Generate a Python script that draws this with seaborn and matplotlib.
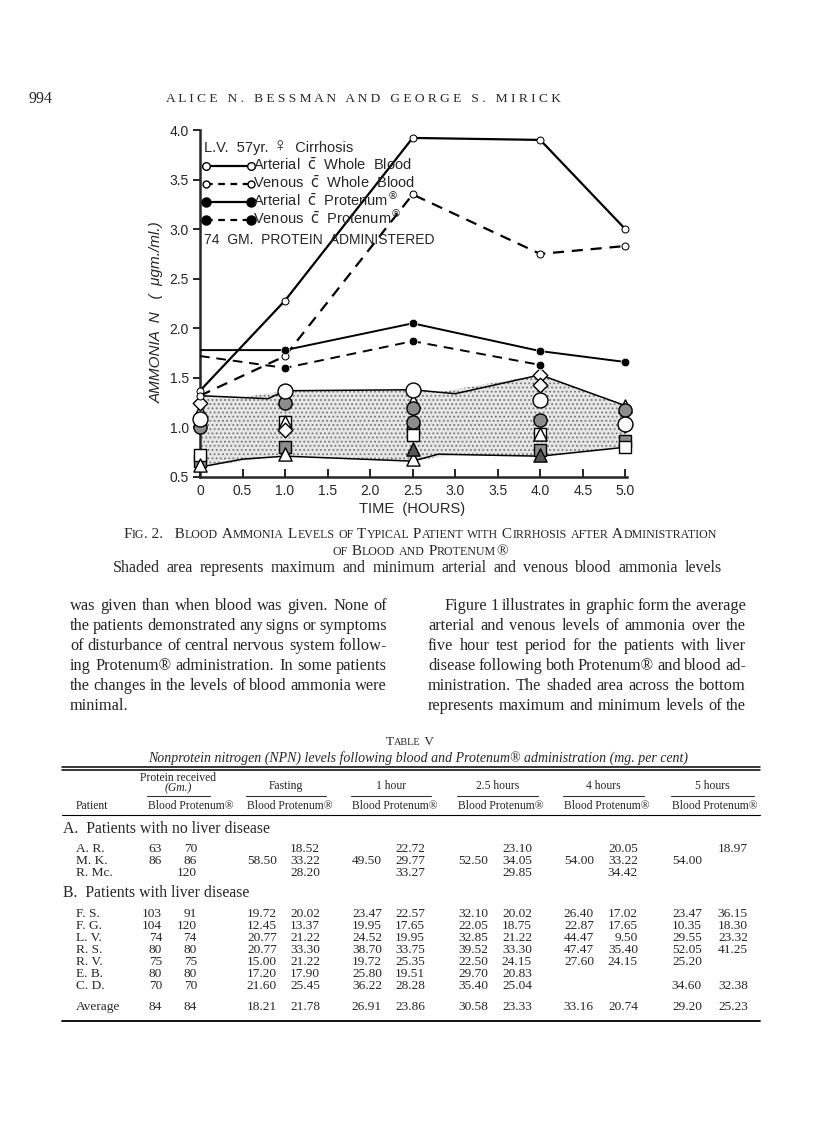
import numpy as np
import pandas as pd
import matplotlib
matplotlib.use("Agg")
import matplotlib.pyplot as plt
import seaborn as sns
from matplotlib.lines import Line2D

# ---- chart data ----
hours = [0, 1.0, 2.5, 4.0, 5.0]
art_blood = [1.37, 2.28, 3.92, 3.90, 3.00]
ven_blood = [1.32, 1.72, 3.35, 2.75, 2.83]
art_prot_t = [0, 1.0, 2.5, 4.0, 5.0]
art_prot = [1.78, 1.78, 2.05, 1.77, 1.66]
ven_prot_t = [0, 1.0, 2.5, 4.0]
ven_prot = [1.72, 1.60, 1.87, 1.63]

# shaded band (max / min of all arterial and venous levels)
band_hi_t = [0, 0.8, 1.0, 2.5, 3.0, 4.0, 5.0]
band_hi = [1.32, 1.29, 1.37, 1.38, 1.34, 1.53, 1.22]
band_lo_t = [0, 0.5, 1.0, 2.5, 2.8, 4.0, 5.0]
band_lo = [0.60, 0.68, 0.71, 0.66, 0.73, 0.71, 0.80]

# individual patient symbols
circ_t = [0, 1.0, 2.5, 4.0, 5.0]
circ_v = [1.08, 1.37, 1.38, 1.28, 1.03]
stip_circ_t = [0, 1.0, 2.5, 2.5, 4.0, 5.0]
stip_circ_v = [1.00, 1.25, 1.20, 1.05, 1.07, 1.18]
tri_t = [0, 0, 1.0, 1.0, 2.5, 2.5, 4.0, 5.0]
tri_v = [1.17, 0.62, 0.73, 1.05, 0.68, 1.27, 0.93, 1.22]
dark_tri_t = [1.0, 2.5, 4.0]
dark_tri_v = [1.30, 0.78, 0.72]
sq_t = [0, 1.0, 2.5, 4.0, 5.0]
sq_v = [0.72, 1.05, 0.92, 0.93, 0.80]
stip_sq_t = [0, 1.0, 2.5, 4.0, 5.0]
stip_sq_v = [0.66, 0.80, 0.97, 0.77, 0.86]
dia_t = [0, 1.0, 4.0, 4.0, 5.0]
dia_v = [1.25, 0.97, 1.53, 1.43, 1.02]

xticks = [0, 0.5, 1.0, 1.5, 2.0, 2.5, 3.0, 3.5, 4.0, 4.5, 5.0]
xtick_labels = ["0", "0.5", "1.0", "1.5", "2.0", "2.5", "3.0", "3.5", "4.0", "4.5", "5.0"]
yticks = [0.5, 1.0, 1.5, 2.0, 2.5, 3.0, 3.5, 4.0]
ytick_labels = ["0.5", "1.0", "1.5", "2.0", "2.5", "3.0", "3.5", "4.0"]

legend_title = ["L.V.  57yr. ", "\u2640", "  Cirrhosis"]
legend_labels = [
    r"Arterial  $\bar{\mathrm{c}}$  Whole  Blood",
    r"Venous  $\bar{\mathrm{c}}$  Whole  Blood",
    r"Arterial  $\bar{\mathrm{c}}$  Protenum$^{\circledR}$",
    r"Venous  $\bar{\mathrm{c}}$  Protenum$^{\circledR}$",
]

# ---- table data ----
names_a = ["A. R.", "M. K.", "R. Mc."]
names_b = ["F. S.", "F. G.", "L. V.", "R. S.", "R. V.", "E. B.", "C. D."]
cols_a = [
    ["63", "86", ""], ["70", "86", "120"],
    ["", "58.50", ""], ["18.52", "33.22", "28.20"],
    ["", "49.50", ""], ["22.72", "29.77", "33.27"],
    ["", "52.50", ""], ["23.10", "34.05", "29.85"],
    ["", "54.00", ""], ["20.05", "33.22", "34.42"],
    ["", "54.00", ""], ["18.97", "", ""],
]
cols_b = [
    ["103", "104", "74", "80", "75", "80", "70"],
    ["91", "120", "74", "80", "75", "80", "70"],
    ["19.72", "12.45", "20.77", "20.77", "15.00", "17.20", "21.60"],
    ["20.02", "13.37", "21.22", "33.30", "21.22", "17.90", "25.45"],
    ["23.47", "19.95", "24.52", "38.70", "19.72", "25.80", "36.22"],
    ["22.57", "17.65", "19.95", "33.75", "25.35", "19.51", "28.28"],
    ["32.10", "22.05", "32.85", "39.52", "22.50", "29.70", "35.40"],
    ["20.02", "18.75", "21.22", "33.30", "24.15", "20.83", "25.04"],
    ["26.40", "22.87", "44.47", "47.47", "27.60", "", ""],
    ["17.02", "17.65", "9.50", "35.40", "24.15", "", ""],
    ["23.47", "10.35", "29.55", "52.05", "25.20", "", "34.60"],
    ["36.15", "18.30", "23.32", "41.25", "", "", "32.38"],
]
averages = ["84", "84", "18.21", "21.78", "26.91", "23.86", "30.58", "23.33",
            "33.16", "20.74", "29.20", "25.23"]
groups = ["Protein received", "Fasting", "1 hour", "2.5 hours", "4 hours", "5 hours"]

left_col = [
    "was given than when blood was given.  None of",
    "the patients demonstrated any signs or symptoms",
    "of disturbance of central nervous system follow-",
    "ing Protenum\u00ae administration.  In some patients",
    "the changes in the levels of blood ammonia were",
    "minimal.",
]
right_col = [
    "Figure 1 illustrates in graphic form the average",
    "arterial and venous levels of ammonia over the",
    "five hour test period for the patients with liver",
    "disease following both Protenum\u00ae and blood ad-",
    "ministration.  The shaded area across the bottom",
    "represents maximum and minimum levels of the",
]

sns.set_style("ticks")
plt.rcParams['font.family'] = ['Liberation Sans', 'DejaVu Sans']
plt.rcParams['hatch.linewidth'] = 0.8
SERIF = ['Liberation Serif', 'DejaVu Serif']

W, H = 816, 1133
fig = plt.figure(figsize=(W / 100, H / 100), dpi=100)
renderer = fig.canvas.get_renderer()


def fx(x):
    return x / W


def fy(y):
    return 1 - y / H


def width_of(s, **kw):
    t = fig.text(0, 0, s, **kw)
    w = t.get_window_extent(renderer).width
    t.remove()
    return w


def justify(x0, x1, y, text, size, last=False, indent=0):
    words = text.split()
    space = width_of("a a", fontsize=size, family=SERIF) - width_of("aa", fontsize=size, family=SERIF)
    ws = [width_of(w, fontsize=size, family=SERIF) for w in words]
    if last or len(words) == 1:
        gap = space
    else:
        gap = (x1 - x0 - indent - sum(ws)) / (len(words) - 1)
        if gap < 0.6 * space:
            # line too long for the column: shrink it slightly
            size = size * (x1 - x0 - indent - 0.6 * space * (len(words) - 1)) / sum(ws)
            ws = [width_of(w, fontsize=size, family=SERIF) for w in words]
            gap = (x1 - x0 - indent - sum(ws)) / (len(words) - 1)
    x = x0 + indent
    for w, wd in zip(words, ws):
        fig.text(fx(x), fy(y), w, fontsize=size, family=SERIF, va='baseline')
        x += wd + gap


def smallcaps(x, y, text, size, ha='left', ratio=0.78, family=SERIF):
    runs = []
    for ch in text:
        small = ch.islower()
        if runs and runs[-1][1] == small:
            runs[-1][0] += ch
        else:
            runs.append([ch, small])
    pieces = []
    for s, small in runs:
        sz = size * ratio if small else size
        s = s.upper().replace(" ", "\u00a0")
        pieces.append((s, sz, width_of(s, fontsize=sz, family=family)))
    total = sum(p[2] for p in pieces)
    if ha == 'center':
        x = x - total / 2
    for s, sz, wd in pieces:
        fig.text(fx(x), fy(y), s, fontsize=sz, family=family, va='baseline')
        x += wd


# ---- chart ----
ax = fig.add_axes([fx(200), fy(477), 427 / W, (477 - 130) / H])

ax.fill_between(band_hi_t, band_hi, np.interp(band_hi_t, band_lo_t, band_lo),
                facecolor='#e6e6e6', edgecolor='#777777', hatch='....', linewidth=0)
lo_on_hi = np.interp(band_lo_t, band_hi_t, band_hi)
ax.fill_between(band_lo_t, lo_on_hi, band_lo,
                facecolor='#e6e6e6', edgecolor='#777777', hatch='....', linewidth=0)
sns.lineplot(x=band_hi_t, y=band_hi, ax=ax, color='k', linewidth=1.1, sort=False)
sns.lineplot(x=band_lo_t, y=band_lo, ax=ax, color='k', linewidth=1.1, sort=False)

sym = dict(ax=ax, s=75, edgecolor='k', linewidth=1.0, zorder=4, legend=False, clip_on=False)
sns.scatterplot(x=stip_sq_t, y=stip_sq_v, marker='s', color='#8c8c8c', **sym)
sns.scatterplot(x=sq_t, y=sq_v, marker='s', color='white', **sym)
sns.scatterplot(x=tri_t, y=tri_v, marker='^', color='white', **dict(sym, s=90))
sns.scatterplot(x=dark_tri_t, y=dark_tri_v, marker='^', color='#555555', **dict(sym, s=90))
sns.scatterplot(x=dia_t, y=dia_v, marker='D', color='white', **dict(sym, s=55))
sns.scatterplot(x=stip_circ_t, y=stip_circ_v, marker='o', color='#8c8c8c', **dict(sym, s=90))
sns.scatterplot(x=circ_t, y=circ_v, marker='o', color='white', **dict(sym, s=115))

sns.lineplot(x=hours, y=art_blood, ax=ax, color='k', linewidth=1.6, sort=False, clip_on=False,
             marker='o', markersize=5, markerfacecolor='white', markeredgecolor='k', zorder=5)
sns.lineplot(x=hours, y=ven_blood, ax=ax, color='k', linewidth=1.6, sort=False, linestyle=(0, (5, 3.5)),
             clip_on=False, marker='o', markersize=5, markerfacecolor='white', markeredgecolor='k', zorder=5)
sns.lineplot(x=art_prot_t, y=art_prot, ax=ax, color='k', linewidth=1.4, sort=False, zorder=5)
sns.lineplot(x=ven_prot_t, y=ven_prot, ax=ax, color='k', linewidth=1.4, sort=False,
             linestyle=(0, (5, 3.5)), zorder=5)
sns.scatterplot(x=art_prot_t[1:], y=art_prot[1:], ax=ax, color='k', s=38, zorder=6, legend=False,
                clip_on=False)
sns.scatterplot(x=ven_prot_t[1:], y=ven_prot[1:], ax=ax, color='k', s=38, zorder=6, legend=False)

ax.set_xlim(0, 5.02)
ax.set_ylim(0.5, 4.0)
ax.set_xticks(xticks)
ax.set_xticklabels(xtick_labels, fontsize=10)
ax.set_yticks(yticks)
ax.set_yticklabels(ytick_labels, fontsize=10)
ax.tick_params(axis='x', direction='in', length=6, width=1.4, pad=5)
ax.tick_params(axis='y', direction='out', length=5, width=1.4, pad=3)
sns.despine(ax=ax)
for sp in ('left', 'bottom'):
    ax.spines[sp].set_linewidth(1.8)

# legend, drawn as a key block in the upper left of the plot
xt = 204
for part, sz in zip(legend_title, [10.5, 14, 10.5]):
    fig.text(fx(xt), fy(152), part, fontsize=sz, va='baseline', zorder=7)
    xt += width_of(part.replace(" ", "\u00a0"), fontsize=sz)
key_styles = [
    dict(ls='-', mfc='white', ms=5.5),
    dict(ls=(0, (3, 2.5)), mfc='white', ms=5),
    dict(ls='-', mfc='k', ms=6.5),
    dict(ls=(0, (3, 2.5)), mfc='k', ms=6.5),
]
for i, (lab, st) in enumerate(zip(legend_labels, key_styles)):
    yk = 166 + 18 * i
    fig.add_artist(Line2D([fx(206), fx(251)], [fy(yk), fy(yk)], color='k', lw=1.6, marker='o',
                          mec='k', zorder=7, **st))
    fig.text(fx(253), fy(yk + 4), lab, fontsize=10.5, va='baseline', zorder=7)
fig.text(fx(204), fy(244), "74  GM.  PROTEIN  ADMINISTERED", fontsize=10, va='baseline', zorder=7)

fig.text(fx(157), fy(312), "AMMONIA  N   (  \u03bcgm./ml.)", rotation=90, fontsize=11,
         style='italic', ha='center', va='center')
fig.text(fx(412), fy(509), "TIME  (HOURS)", fontsize=10.5, ha='center', va='center')

# ---- page header ----
fig.text(fx(28), fy(103), "994", fontsize=11.5, family=SERIF, va='baseline')
fig.text(fx(363), fy(102), "A L I C E   N .   B E S S M A N   A N D   G E O R G E   S .   M I R I C K",
         fontsize=9.6, family=SERIF, ha='center', va='baseline')

# ---- caption ----
smallcaps(420, 538, "Fig. 2.   Blood Ammonia Levels of Typical Patient with Cirrhosis after Administration",
          11, ha='center')
smallcaps(420, 555, "of Blood and Protenum\u00ae", 11, ha='center')
justify(113, 722, 572, "Shaded area represents maximum and minimum arterial and venous blood ammonia levels", 11.5)

# ---- body text ----
for i, line in enumerate(left_col):
    justify(70, 387, 610 + 20 * i, line, 11.8, last=(i == len(left_col) - 1))
for i, line in enumerate(right_col):
    justify(428, 746, 610 + 20 * i, line, 11.8, indent=(17 if i == 0 else 0))

# ---- table ----
TS = 8.4
NS = 9.6
smallcaps(410, 745, "Table V", 9.5, ha='center')
fig.text(fx(418), fy(758), "Nonprotein nitrogen (NPN) levels following blood and Protenum\u00ae administration (mg. per cent)",
         fontsize=10, family=SERIF, style='italic', ha='center', va='center')
for yy, lw in ((767, 1.1), (770, 1.1), (815, 0.8), (1021, 1.3)):
    fig.add_artist(Line2D([fx(62), fx(760)], [fy(yy), fy(yy)], color='k', lw=lw))

col_right = [162, 197, 277, 320, 382, 425, 488, 532, 594, 638, 702, 748]
for g, name in enumerate(groups):
    xb, xp = col_right[2 * g], col_right[2 * g + 1]
    if g == 0:
        cx = 178
        fig.text(fx(cx), fy(778), name, fontsize=TS, family=SERIF, ha='center', va='center')
        fig.text(fx(cx), fy(788), "(Gm.)", fontsize=TS, family=SERIF, style='italic', ha='center', va='center')
        x0, x1 = 147, 210
    else:
        x0, x1 = xb - 31, xp + 6
        fig.text(fx((x0 + x1) / 2), fy(786), name, fontsize=TS, family=SERIF, ha='center', va='center')
    fig.add_artist(Line2D([fx(x0), fx(x1)], [fy(796), fy(796)], color='#333333', lw=0.8))
    fig.text(fx(x0 + 1), fy(806), "Blood Protenum\u00ae", fontsize=TS, family=SERIF, va='center')
fig.text(fx(76), fy(806), "Patient", fontsize=TS, family=SERIF, va='center')

fig.text(fx(63), fy(829), "A.  Patients with no liver disease", fontsize=11.3, family=SERIF, va='center')
for r, nm in enumerate(names_a):
    y = 849 + 12 * r
    fig.text(fx(76), fy(y), nm, fontsize=NS, family=SERIF, va='center')
    for c, col in enumerate(cols_a):
        fig.text(fx(col_right[c]), fy(y), col[r], fontsize=NS, family=SERIF, ha='right', va='center')

fig.text(fx(63), fy(893), "B.  Patients with liver disease", fontsize=11.3, family=SERIF, va='center')
for r, nm in enumerate(names_b):
    y = 914 + 12 * r
    fig.text(fx(76), fy(y), nm, fontsize=NS, family=SERIF, va='center')
    for c, col in enumerate(cols_b):
        fig.text(fx(col_right[c]), fy(y), col[r], fontsize=NS, family=SERIF, ha='right', va='center')

fig.text(fx(76), fy(1007), "Average", fontsize=NS, family=SERIF, va='center')
for c, v in enumerate(averages):
    fig.text(fx(col_right[c]), fy(1007), v, fontsize=NS, family=SERIF, ha='right', va='center')

fig.savefig("out.png", dpi=100)
